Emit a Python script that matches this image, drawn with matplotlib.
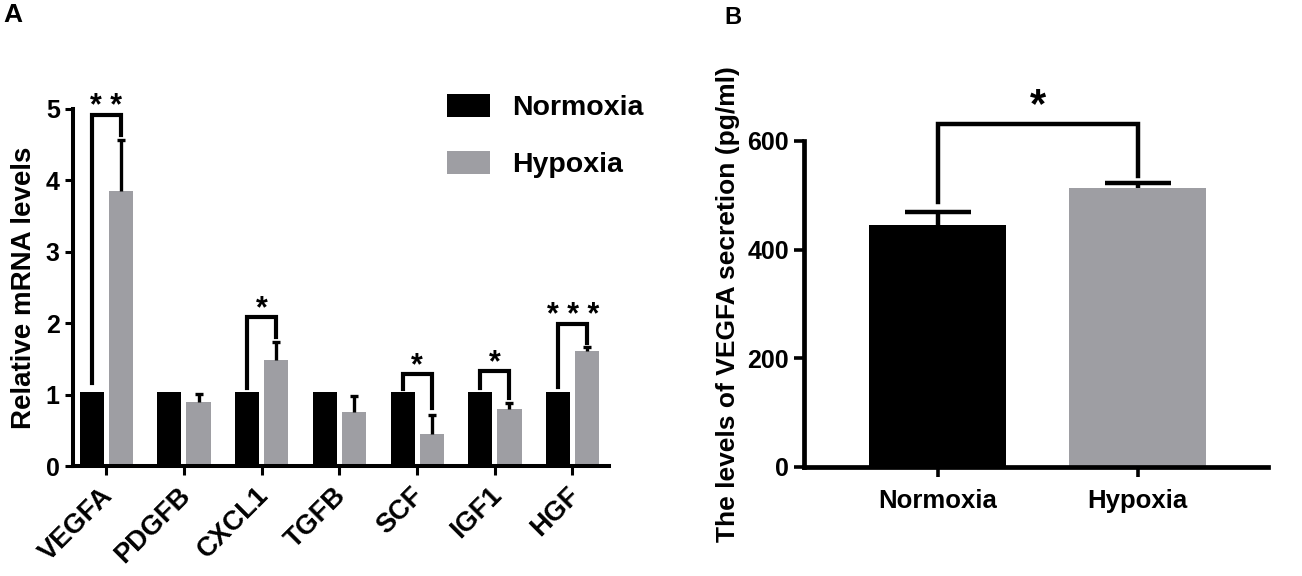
import matplotlib
matplotlib.use("Agg")
import matplotlib.pyplot as plt
import matplotlib.transforms as mtransforms
import numpy as np

plt.rcParams['font.family'] = ['Liberation Sans', 'DejaVu Sans']
plt.rcParams['font.weight'] = 'bold'
plt.rcParams['axes.labelweight'] = 'bold'

# Panel A data
genes = ['VEGFA', 'PDGFB', 'CXCL1', 'TGFB', 'SCF', 'IGF1', 'HGF']
normoxia_mrna = [1.03, 1.03, 1.03, 1.03, 1.03, 1.03, 1.03]
hypoxia_mrna = [3.85, 0.90, 1.49, 0.76, 0.45, 0.80, 1.61]
hypoxia_mrna_err = [0.72, 0.11, 0.24, 0.22, 0.27, 0.08, 0.06]

# significance brackets for panel A: gene index, top, left leg end, right leg end, label
sig_gene = [0, 2, 4, 5, 6]
sig_top = [4.92, 2.09, 1.29, 1.33, 1.99]
sig_left = [1.16, 1.09, 1.08, 1.09, 1.11]
sig_right = [4.64, 1.81, 0.81, 0.95, 1.72]
sig_text = ['* *', '*', '*', '*', '* * *']

# Panel B data
groups = ['Normoxia', 'Hypoxia']
vegfa_secretion = [444.7, 513.2]
vegfa_secretion_err = [25.0, 10.0]
b_sig = (632.0, 487.0, 536.0, '*')

BLACK = '#000000'
GRAY = '#9e9ea3'

W, H = 1302, 576
fig = plt.figure(figsize=(W / 100, H / 100), dpi=100)


def px_axes(left, top, right, bottom):
    return fig.add_axes([left / W, 1 - bottom / H, (right - left) / W, (bottom - top) / H])


# ---------------- Panel A ----------------
ax = px_axes(73, 109, 609, 466)
x = np.arange(len(genes))
bw = 0.31
xn = x - 0.185
xh = x + 0.19
ax.bar(xn, normoxia_mrna, width=bw, color=BLACK, label='Normoxia')
ax.bar(xh, hypoxia_mrna, width=bw, color=GRAY, label='Hypoxia')
eb = ax.errorbar(xh, hypoxia_mrna, yerr=[np.zeros(len(genes)), hypoxia_mrna_err],
                 fmt='none', ecolor=BLACK, elinewidth=2.4, capsize=3, capthick=2.4)
eb[1][0].set_visible(False)  # no cap at the bar top

for g, top, yl, yr, t in zip(sig_gene, sig_top, sig_left, sig_right, sig_text):
    ax.plot([xn[g], xn[g], xh[g], xh[g]], [yl, top, top, yr], color=BLACK,
            lw=3, solid_joinstyle='miter', clip_on=False)
    ax.text((xn[g] + xh[g]) / 2, top, t, ha='center', va='baseline',
            fontsize=22, clip_on=False)

ax.set_xlim(-0.425, 6.47)
ax.set_ylim(0, 5)
ax.set_yticks([0, 1, 2, 3, 4, 5])
ax.set_xticks(x)
ax.tick_params(axis='x', length=6.5, width=2.2, pad=15.5)
ax.tick_params(axis='y', length=6, width=2.2, labelsize=18, pad=3.5)
ax.set_xticklabels(genes, rotation=45, ha='right', va='baseline',
                   rotation_mode='anchor', fontsize=19.5)
# nudge the rotated gene names to the right (after tick_params, which resets transforms)
offset = mtransforms.ScaledTranslation(8 / 100, 0, fig.dpi_scale_trans)
for lab in ax.get_xticklabels():
    lab.set_transform(lab.get_transform() + offset)
for s in ['top', 'right']:
    ax.spines[s].set_visible(False)
for s in ['left', 'bottom']:
    ax.spines[s].set_linewidth(2.9)
ax.set_ylabel('Relative mRNA levels', fontsize=20, labelpad=6)

leg = ax.legend(loc='upper left', bbox_to_anchor=(447 / W, 1 - 94 / H),
                bbox_transform=fig.transFigure, frameon=False, fontsize=20.5,
                handlelength=1.5, handleheight=0.88, handletextpad=0.78,
                labelspacing=1.02, borderpad=0, borderaxespad=0)

fig.text(3 / W, 1 - 3 / H, 'A', fontsize=19, ha='left', va='top')

# ---------------- Panel B ----------------
bx = px_axes(804, 141, 1268, 467)
xb = np.arange(len(groups))
bx.bar(xb, vegfa_secretion, width=0.686, color=[BLACK, GRAY])
ebb = bx.errorbar(xb, vegfa_secretion, yerr=[np.zeros(2), vegfa_secretion_err],
                  fmt='none', ecolor=BLACK, elinewidth=3.2, capsize=24, capthick=3.2)
ebb[1][0].set_visible(False)
top, yl, yr, t = b_sig
bx.plot([0, 0, 1, 1], [yl, top, top, yr], color=BLACK, lw=3.2,
        solid_joinstyle='miter', clip_on=False)
bx.text(0.5, top + 12, t, ha='center', va='baseline', fontsize=30, clip_on=False)

bx.set_xlim(-0.668, 1.651)
bx.set_ylim(0, 600)
bx.set_yticks([0, 200, 400, 600])
bx.set_xticks(xb)
bx.set_xticklabels(groups, fontsize=18.5)
bx.tick_params(axis='x', length=7.5, width=2.6, pad=8)
bx.tick_params(axis='y', length=7.5, width=2.6, labelsize=18, pad=3.3)
for s in ['top', 'right']:
    bx.spines[s].set_visible(False)
for s in ['left', 'bottom']:
    bx.spines[s].set_linewidth(3.4)
bx.set_ylabel('The levels of VEGFA secretion (pg/ml)', fontsize=19, labelpad=5)

fig.text(724 / W, 1 - 6 / H, 'B', fontsize=17, ha='left', va='top')

fig.savefig('out.png', dpi=100)
